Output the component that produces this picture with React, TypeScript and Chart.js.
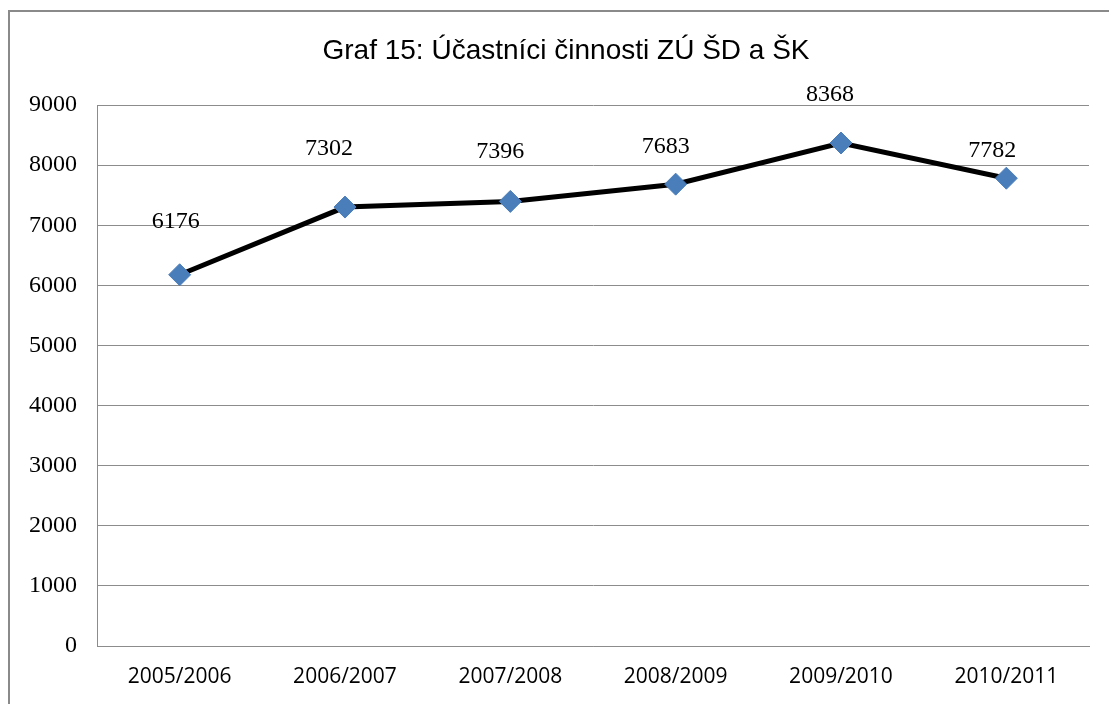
import React, { useEffect, useRef } from "react";
import { Chart, registerables } from "chart.js";

Chart.register(...registerables);

const titleText = "Graf 15: Účastníci činnosti ZÚ ŠD a ŠK";
const categories = ["2005/2006", "2006/2007", "2007/2008", "2008/2009", "2009/2010", "2010/2011"];
const participants = [6176, 7302, 7396, 7683, 8368, 7782];
const yMin = 0;
const yMax = 9000;
const yStep = 1000;

const labelPlugin = {
  id: "pointLabels",
  afterDatasetsDraw(chart: any, _args: any, opts: any) {
    const ctx = chart.ctx;
    const meta = chart.getDatasetMeta(0);
    const data = chart.data.datasets[0].data;
    ctx.save();
    ctx.font = opts.font;
    ctx.fillStyle = opts.color;
    ctx.textAlign = "center";
    ctx.textBaseline = "middle";
    meta.data.forEach((pt: any, i: number) => {
      const dx = (opts.dx && opts.dx[i]) || 0;
      const dy = (opts.dy && opts.dy[i]) || 0;
      ctx.fillText(String(data[i]), pt.x + dx, pt.y + dy);
    });
    ctx.restore();
  },
};

const titlePlugin = {
  id: "frameTitle",
  afterDraw(chart: any, _args: any, opts: any) {
    const ctx = chart.ctx;
    ctx.save();
    ctx.font = opts.font;
    ctx.fillStyle = opts.color;
    ctx.textAlign = "center";
    ctx.textBaseline = "middle";
    ctx.fillText(opts.text, opts.x, opts.y);
    ctx.restore();
  },
};

export default function App() {
  const ref = useRef<HTMLCanvasElement>(null);
  useEffect(() => {
    if (!ref.current) return;
    const chart = new Chart(ref.current, {
      type: "line",
      data: {
        labels: categories,
        datasets: [
          {
            data: participants,
            borderColor: "#000000",
            borderWidth: 5,
            pointStyle: "rectRot",
            pointRadius: 11,
            pointBackgroundColor: "#4a7ebb",
            pointBorderColor: "#4a7ebb",
            pointBorderWidth: 1,
            tension: 0,
          },
        ],
      },
      plugins: [labelPlugin, titlePlugin],
      options: {
        animation: false,
        responsive: false,
        layout: { padding: { left: 0, right: 20, top: 105, bottom: 0 } },
        plugins: {
          legend: { display: false },
          tooltip: { enabled: false },
          title: { display: false },
          frameTitle: {
            text: titleText,
            font: "28px 'Liberation Sans', Arial, sans-serif",
            color: "#000000",
            x: 566,
            y: 51,
          },
          pointLabels: {
            font: "24px 'Liberation Serif', serif",
            color: "#000000",
            dx: [-4, -16, -10, -10, -11, -14],
            dy: [-53, -58, -50, -37, -48, -28],
          },
        } as any,
        scales: {
          x: {
            offset: true,
            grid: { display: false, drawTicks: false },
            border: { display: true, color: "#8c8c8c", width: 1 },
            ticks: {
              color: "#000000",
              padding: 18,
              font: { family: "'Open Sans', sans-serif", size: 21 },
            },
            afterFit: (s: any) => {
              s.height = 58;
            },
          },
          y: {
            min: yMin,
            max: yMax,
            grid: { color: "#8c8c8c", lineWidth: 1, drawTicks: false },
            border: { display: true, color: "#8c8c8c", width: 1 },
            ticks: {
              stepSize: yStep,
              color: "#000000",
              padding: 20,
              font: { family: "'Liberation Serif', serif", size: 24 },
              callback: (v: any) => String(v),
            },
            afterFit: (s: any) => {
              s.width = 97;
            },
          },
        },
      },
    });
    return () => chart.destroy();
  }, []);

  return (
    <div style={{ position: "fixed", left: 0, top: 0, width: 1109, height: 704, background: "#fff", overflow: "hidden" }}>
      <div
        style={{
          position: "absolute",
          left: 8,
          top: 10,
          width: 1200,
          height: 800,
          border: "2px solid #8a8a8a",
          boxSizing: "border-box",
        }}
      />
      <canvas ref={ref} width={1109} height={704} style={{ position: "absolute", left: 0, top: 0, width: 1109, height: 704 }} />
    </div>
  );
}
